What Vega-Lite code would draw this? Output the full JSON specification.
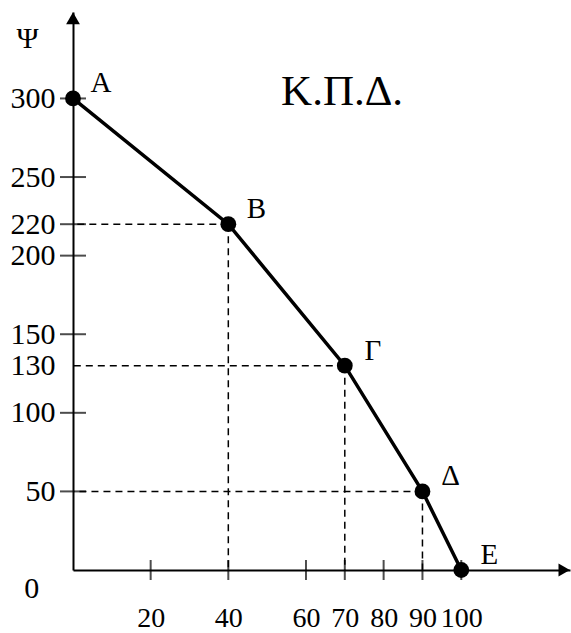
{
  "$schema": "https://vega.github.io/schema/vega-lite/v6.json",
  "width": 497,
  "height": 558,
  "autosize": "none",
  "padding": {"left": 73, "top": 12, "right": 1, "bottom": 63},
  "background": "white",
  "config": {"view": {"stroke": null}, "font": "Liberation Serif"},
  "datasets": {
    "points": [
      {"x": 0, "y": 300, "label": "Α"},
      {"x": 40, "y": 220, "label": "Β"},
      {"x": 70, "y": 130, "label": "Γ"},
      {"x": 90, "y": 50, "label": "Δ"},
      {"x": 100, "y": 0, "label": "Ε"}
    ],
    "guides": [
      {"x": 40, "y": 220},
      {"x": 70, "y": 130},
      {"x": 90, "y": 50}
    ],
    "xticks": [{"v": 20}, {"v": 40}, {"v": 60}, {"v": 70}, {"v": 80}, {"v": 90}, {"v": 100}],
    "yticks": [{"v": 50}, {"v": 100}, {"v": 150}, {"v": 200}, {"v": 220}, {"v": 250}, {"v": 300}]
  },
  "layer": [
    {
      "data": {"name": "guides"},
      "mark": {"type": "rule", "strokeDash": [7, 5], "strokeWidth": 1.5, "color": "black"},
      "encoding": {
        "x": {"field": "x", "type": "quantitative", "scale": {"domain": [0, 128], "nice": false}},
        "x2": {"datum": 0},
        "y": {"field": "y", "type": "quantitative", "scale": {"domain": [0, 355], "nice": false}}
      }
    },
    {
      "data": {"name": "guides"},
      "mark": {"type": "rule", "strokeDash": [7, 5], "strokeWidth": 1.5, "color": "black"},
      "encoding": {
        "x": {"field": "x", "type": "quantitative"},
        "y": {"field": "y", "type": "quantitative"},
        "y2": {"datum": 0}
      }
    },
    {
      "data": {"name": "points"},
      "mark": {"type": "line", "color": "black", "strokeWidth": 3.5},
      "encoding": {
        "x": {
          "field": "x", "type": "quantitative",
          "scale": {"domain": [0, 128], "nice": false},
          "axis": {
            "values": [20, 40, 60, 70, 80, 90, 100],
            "title": null, "grid": false,
            "domain": true, "domainColor": "black", "domainWidth": 2,
            "ticks": false, "tickSize": 0,
            "labelPadding": 34, "labelFontSize": 28, "labelColor": "black",
            "labelFont": "Liberation Serif", "labelOverlap": false, "labelFlush": false
          }
        },
        "y": {
          "field": "y", "type": "quantitative",
          "scale": {"domain": [0, 355], "nice": false},
          "axis": {
            "values": [50, 100, 130, 150, 200, 220, 250, 300],
            "grid": false,
            "domain": true, "domainColor": "black", "domainWidth": 2,
            "ticks": false, "tickSize": 0,
            "labelPadding": 18, "labelFontSize": 30, "labelColor": "black",
            "labelFont": "Liberation Serif", "labelOverlap": false, "labelFlush": false,
            "title": "Ψ", "titleAngle": 0, "titleX": -46, "titleY": 26,
            "titleFontSize": 30, "titleFontWeight": "normal", "titleColor": "black",
            "titleFont": "Liberation Serif", "titleAlign": "center", "titleBaseline": "middle"
          }
        }
      }
    },
    {
      "data": {"name": "xticks"},
      "mark": {"type": "tick", "orient": "vertical", "size": 20, "thickness": 2, "color": "black"},
      "encoding": {
        "x": {"field": "v", "type": "quantitative"},
        "y": {"datum": 0, "type": "quantitative"}
      }
    },
    {
      "data": {"name": "yticks"},
      "mark": {"type": "tick", "orient": "horizontal", "size": 26, "thickness": 2, "color": "black"},
      "encoding": {
        "x": {"datum": 0, "type": "quantitative"},
        "y": {"field": "v", "type": "quantitative"}
      }
    },
    {
      "data": {"name": "points"},
      "mark": {"type": "point", "filled": true, "color": "black", "size": 250, "opacity": 1},
      "encoding": {
        "x": {"field": "x", "type": "quantitative"},
        "y": {"field": "y", "type": "quantitative"}
      }
    },
    {
      "data": {"name": "points"},
      "mark": {"type": "text", "dx": 28, "dy": -15, "fontSize": 29, "font": "Liberation Serif", "color": "black"},
      "encoding": {
        "x": {"field": "x", "type": "quantitative"},
        "y": {"field": "y", "type": "quantitative"},
        "text": {"field": "label"}
      }
    },
    {
      "data": {"values": [{"x": 0, "y": 351}]},
      "mark": {"type": "point", "shape": "triangle-up", "filled": true, "color": "black", "size": 190, "opacity": 1},
      "encoding": {
        "x": {"field": "x", "type": "quantitative"},
        "y": {"field": "y", "type": "quantitative"}
      }
    },
    {
      "data": {"values": [{"x": 126.5, "y": 0}]},
      "mark": {"type": "point", "shape": "triangle-right", "filled": true, "color": "black", "size": 170, "opacity": 1},
      "encoding": {
        "x": {"field": "x", "type": "quantitative"},
        "y": {"field": "y", "type": "quantitative"}
      }
    },
    {
      "data": {"values": [{"x": 69.3, "y": 304, "text": "Κ.Π.Δ."}]},
      "mark": {"type": "text", "fontSize": 43, "font": "Liberation Serif", "color": "black", "baseline": "middle", "align": "center"},
      "encoding": {
        "x": {"field": "x", "type": "quantitative"},
        "y": {"field": "y", "type": "quantitative"},
        "text": {"field": "text"}
      }
    },
    {
      "data": {"values": [{"x": -10.6, "y": -12.1, "text": "0"}]},
      "mark": {"type": "text", "fontSize": 30, "font": "Liberation Serif", "color": "black", "baseline": "middle", "align": "center"},
      "encoding": {
        "x": {"field": "x", "type": "quantitative"},
        "y": {"field": "y", "type": "quantitative"},
        "text": {"field": "text"}
      }
    }
  ]
}
